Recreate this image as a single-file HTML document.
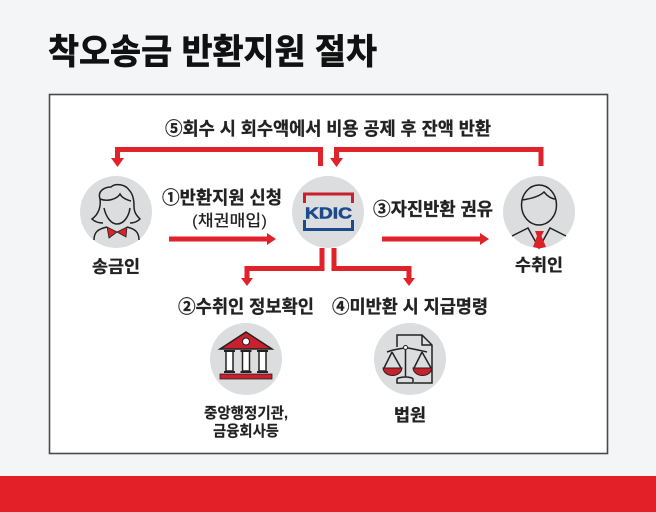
<!DOCTYPE html>
<html lang="ko"><head><meta charset="utf-8">
<style>
html,body{margin:0;padding:0;background:#f4f5f7}
svg{display:block}
text{font-family:"Liberation Sans","Noto Sans CJK KR",sans-serif;fill:#222;stroke:#222;stroke-width:.3px;text-anchor:middle;font-weight:700}
</style></head>
<body>
<svg width="656" height="512" viewBox="0 0 656 512" xmlns="http://www.w3.org/2000/svg">
<rect width="656" height="512" fill="#f4f5f7"/>
<rect x="0" y="476" width="656" height="36" fill="#e32028"/>
<rect x="49.500" y="94.500" width="558" height="359" fill="#fff" stroke="#4a4a4a" stroke-width="1.600"/>
<text x="212.500" y="64" font-size="35" style="fill:#111;stroke:#111;stroke-width:.7px" textLength="329" lengthAdjust="spacingAndGlyphs">착오송금 반환지원 절차</text>

<g fill="#dcddde">
<circle cx="116" cy="212" r="36"/><circle cx="328" cy="212" r="36"/><circle cx="539" cy="212" r="36"/>
<circle cx="246" cy="359" r="36"/><circle cx="410" cy="359" r="36"/>
</g>

<!-- arrows -->
<g fill="none" stroke="#e0222a" stroke-width="5">
<path d="M320.500 166V149.500H117.500V158"/>
<path d="M336.500 158V149.500H541V166"/>
<path d="M169 239H268"/>
<path d="M382 239H481"/>
<path d="M322 248V268.500H247V278"/>
<path d="M334 248V268.500H409V278"/>
</g>
<g fill="#e0222a">
<path d="M111 158H124L117.500 167Z"/>
<path d="M330 158H343L336.500 167Z"/>
<path d="M267 233L276 239L267 245Z"/>
<path d="M480 233L489 239L480 245Z"/>
<path d="M241 278H253L247 286Z"/>
<path d="M403 278H415L409 286Z"/>
</g>

<!-- labels -->
<text x="328" y="135" font-size="18" textLength="326" lengthAdjust="spacingAndGlyphs">⑤회수 시 회수액에서 비용 공제 후 잔액 반환</text>
<text x="222" y="204" font-size="18" textLength="120" lengthAdjust="spacingAndGlyphs">①반환지원 신청</text>
<text x="229.500" y="226" font-size="16" style="stroke-width:0;font-weight:500" textLength="75" lengthAdjust="spacingAndGlyphs">(채권매입)</text>
<text x="433" y="215.500" font-size="18" textLength="120" lengthAdjust="spacingAndGlyphs">③자진반환 권유</text>
<text x="116" y="272.500" font-size="17" textLength="48" lengthAdjust="spacingAndGlyphs">송금인</text>
<text x="539" y="271" font-size="17" textLength="48" lengthAdjust="spacingAndGlyphs">수취인</text>
<text x="246" y="313" font-size="18" textLength="136" lengthAdjust="spacingAndGlyphs">②수취인 정보확인</text>
<text x="410" y="313" font-size="18" textLength="156" lengthAdjust="spacingAndGlyphs">④미반환 시 지급명령</text>
<text x="246" y="418" font-size="15" style="stroke-width:.15px" textLength="84" lengthAdjust="spacingAndGlyphs">중앙행정기관,</text>
<text x="246" y="436" font-size="15" style="stroke-width:.15px" textLength="66" lengthAdjust="spacingAndGlyphs">금융회사등</text>
<text x="410" y="421" font-size="17" textLength="32" lengthAdjust="spacingAndGlyphs">법원</text>

<!-- KDIC -->
<path d="M304.500 203V194H352.500V203" fill="none" stroke="#c8202f" stroke-width="3"/>
<path d="M304.500 220V229.500H352.500V220" fill="none" stroke="#1c4a8c" stroke-width="3"/>
<text x="328.500" y="218.500" font-size="16" style="fill:#1c4a8c;stroke:#1c4a8c;stroke-width:.6px" textLength="47" lengthAdjust="spacingAndGlyphs">KDIC</text>

<!-- sender woman -->
<g fill="none" stroke="#222" stroke-width="1.500">
<path d="M100 199C97 190 106 187 111 187C115 183 125 184 129 190C133 194 134 200 134 206C134 212 136 215 140 219C137 222 133 223 130 223"/>
<path d="M100 199C101 206 99 214 92 219C95 222 99 223 103 223"/>
<path d="M100 199C108 202 117 199 120 194C122 198 127 200 131 201"/>
<path d="M104 208C106 217 111 224 117 224C124 224 129 216 130 208"/>
<path d="M94 240C94 232 98 229 107 227M139 240C139 232 135 229 127 227"/>
</g>
<path d="M107 227L117 232L127 227L126 237L117 232L109 238Z" fill="#d8232b" stroke="#222" stroke-width=".8"/>

<!-- receiver man -->
<g fill="none" stroke="#222" stroke-width="1.500">
<ellipse cx="539" cy="205" rx="17.500" ry="20"/>
<path d="M522 200C529 199 539 197 544 192C548 197 552 199 556 199"/>
<path d="M512 236L528 228L539 248L550 228L566 236"/>
</g>
<path d="M535 231H544L541.500 236L546 247L539.500 248.500L533 247L537 236Z" fill="#d8232b"/>

<!-- bank -->
<path d="M220 349L246 332L272 349Z" fill="#c8202c" stroke="#222" stroke-width="1.500"/>
<circle cx="246" cy="341.500" r="3.500" fill="#fff" stroke="#222" stroke-width="1"/>
<g fill="#fff" stroke="#222" stroke-width="1.500">
<rect x="226" y="351" width="7" height="20"/><rect x="242.500" y="351" width="7" height="20"/><rect x="259" y="351" width="7" height="20"/>
</g>
<path d="M224 351H235M240.500 351H251.500M257 351H268M224 372H235M240.500 372H251.500M257 372H268" stroke="#222" stroke-width="2"/>
<rect x="220" y="374" width="52" height="5" fill="#c8202c" stroke="#222" stroke-width=".8"/>

<!-- court -->
<path d="M397 347V335H422L432 345V383H414" fill="none" stroke="#222" stroke-width="1.500"/>
<path d="M422 335V345H432" fill="none" stroke="#222" stroke-width="1.500"/>
<g fill="none" stroke="#222" stroke-width="1.500">
<path d="M387 352C395 349 400 349 404 348H408C414 349 418 350 427 352"/>
<path d="M405.500 348V377M397 383V379C397 378 402 377 405.500 377C409 377 413 378 413 379V383Z"/>
<path d="M392 352L384 368M392 352L401 368M422 352L414 368M422 352L431 368"/>
</g>
<circle cx="405.500" cy="347.500" r="2" fill="#fff" stroke="#222" stroke-width="1"/>
<path d="M383 368H402C401 378 384 378 383 368Z" fill="#c8202c" stroke="#222" stroke-width="1"/>
<path d="M413 368H432C431 378 414 378 413 368Z" fill="#c8202c" stroke="#222" stroke-width="1"/>
</svg>
</body></html>
